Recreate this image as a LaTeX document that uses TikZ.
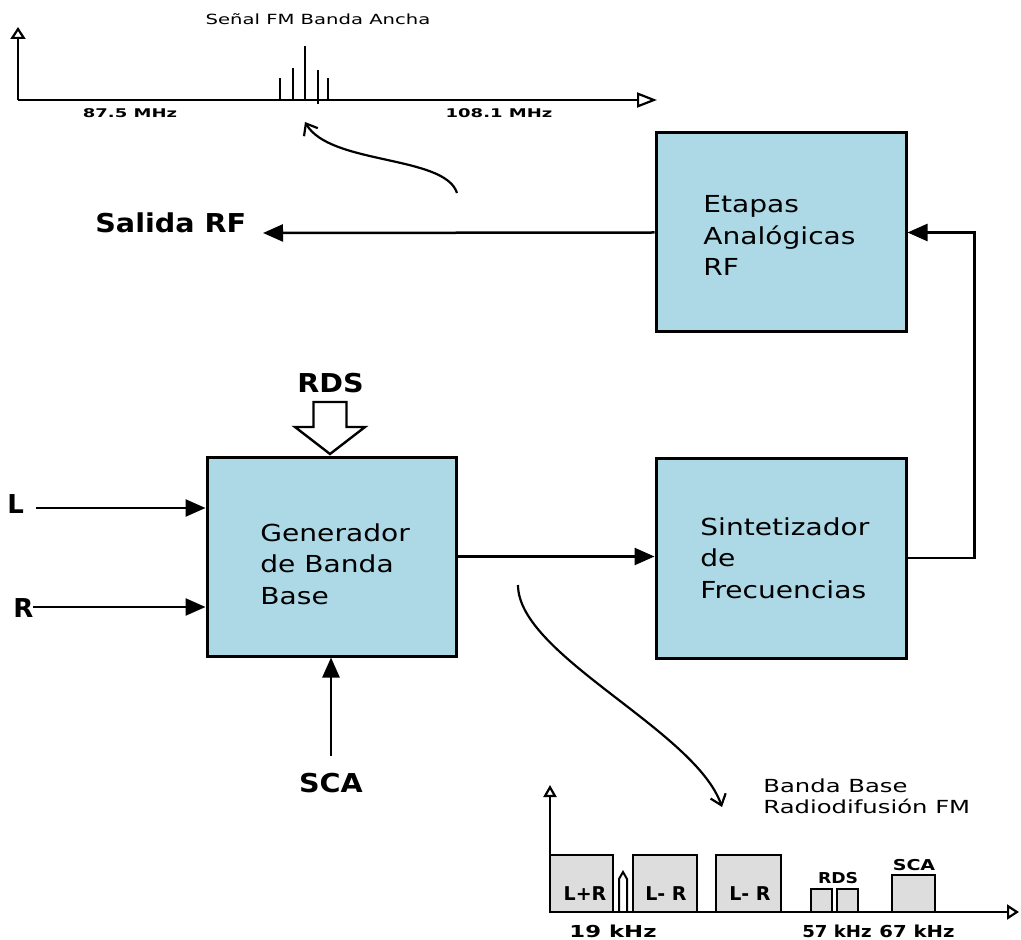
\documentclass[tikz,border=0pt]{standalone}
\usepackage{fontspec}
\setmainfont{DejaVu Sans}
\usepackage{graphicx}
\usetikzlibrary{arrows.meta}

\definecolor{boxblue}{RGB}{173,216,230}
\definecolor{specgray}{RGB}{221,221,221}

% horizontally widened text and left-aligned stacked lines
\newcommand{\hs}[2]{\scalebox{#1}[1]{#2}}
\newcommand{\stack}[2]{\scalebox{#1}[1]{\begin{tabular}[t]{@{}l@{}}#2\end{tabular}}}

\tikzset{
  blk/.style={draw=black, line width=1.5pt, fill=boxblue, inner sep=0pt},
  band/.style={draw=black, line width=1.25pt, fill=specgray},
  wire/.style={line width=1.25pt, -{Triangle[length=10pt,width=8.5pt]}},
  axis/.style={line width=1.25pt},
  curvy/.style={line width=1.1pt, -{Straight Barb[length=5pt,width=8pt,line width=1.1pt]}},
  boxtxt/.style={font=\fontsize{11.7}{15.75}\selectfont, anchor=base west, inner sep=0pt},
  lbl/.style={font=\fontsize{13}{15}\selectfont\bfseries, anchor=base west, inner sep=0pt},
  tiny/.style={font=\fontsize{6}{7}\selectfont\bfseries, anchor=base, inner sep=0pt},
}

\begin{document}
\begin{tikzpicture}[x=0.5pt,y=-0.5pt]
\useasboundingbox (0,0) rectangle (1021,940);

% ---- processing blocks
\node[blk, minimum width=125pt, minimum height=99.5pt] (eta) at (781,232.5) {};
\node[blk, minimum width=124.5pt, minimum height=99.5pt] (gen) at (331.5,556.5) {};
\node[blk, minimum width=125pt, minimum height=100pt] (syn) at (781,558) {};

\node[boxtxt] (etatxt) at (703,213) {\stack{1.2}{Etapas\\Analógicas\\RF}};
\node[boxtxt] (gentxt) at (260,541) {\stack{1.2}{Generador\\de Banda\\Base}};
\node[boxtxt] (syntxt) at (700,535) {\stack{1.2}{Sintetizador\\de\\Frecuencias}};

% ---- signal flow
\draw[wire] (gen.east) -- (gen.east -| syn.west);
\draw[wire] (syn.east) -- ++(67,0) |- (eta.east);

\coordinate (rfout) at (263,233);
\draw[wire] (eta.west) -- (rfout);
\node[lbl] (salida) at (95,233) {\hs{1.1}{Salida RF}};

\coordinate (lin) at (36,508);
\coordinate (rin) at (33,607);
\draw[wire] (lin) -- (lin -| gen.west);
\draw[wire] (rin) -- (rin -| gen.west);
\node[lbl] (ltxt) at (7,513) {L};
\node[lbl] (rtxt) at (13,617) {R};

\coordinate (scain) at (331,756);
\draw[wire] (scain) -- (scain |- gen.south);
\node[lbl, anchor=base] (scatxt) at (331,792) {\hs{1.1}{SCA}};

% hollow RDS input arrow
\draw[line width=1.2pt, fill=white, line join=miter]
  (313.5,402) -- (346.5,402) -- (346.5,427) -- (365,427) -- (330,454)
  -- (295,427) -- (313.5,427) -- cycle;
\node[lbl] (rdstxt) at (297,393) {\hs{1.1}{RDS}};

% ---- wideband FM spectrum
\coordinate (o1) at (18,100);
\draw[axis, -{Triangle[open,length=6pt,width=7.5pt,line width=1.1pt]}] (o1) -- (18,27);
\draw[axis, -{Triangle[open,length=10pt,width=7.5pt,line width=1.1pt]}] (o1) -- (657,100);
\foreach \x/\t/\b in {280/78/100, 293/68/100, 305/46/100, 318/70/104, 328/78/100}
  \draw[axis] (\x,\b) -- (\x,\t);
\node[font=\fontsize{7}{8}\selectfont, anchor=base, inner sep=0pt] (wfm) at (318,25)
  {\hs{1.4}{Señal FM Banda Ancha}};
\node[tiny] (f1) at (130,118) {\hs{1.5}{87.5 MHz}};
\node[tiny] (f2) at (499,118) {\hs{1.5}{108.1 MHz}};

\coordinate (c1s) at (457,193);
\coordinate (c1e) at (305,122);
\draw[curvy] (c1s) .. controls (445,155) and (330,165) .. (c1e);

% ---- baseband spectrum
\coordinate (c2s) at (518,585);
\coordinate (c2e) at (722,807);
\draw[curvy] (c2s) .. controls (518,655) and (695,730) .. (c2e);

\node[font=\fontsize{9}{10}\selectfont, anchor=base west, inner sep=0pt] (bb1) at (763,792)
  {\hs{1.35}{Banda Base}};
\node[font=\fontsize{9}{10}\selectfont, anchor=base west, inner sep=0pt] (bb2) at (763,813)
  {\hs{1.35}{Radiodifusión FM}};

\draw[band] (550,912) rectangle (613,855);
\draw[band] (633,912) rectangle (697,855);
\draw[band] (716,912) rectangle (781,855);
\draw[band] (811,912) rectangle (832,889);
\draw[band] (837,912) rectangle (858,889);
\draw[band] (892,912) rectangle (935,875);
\draw[line width=1pt, line join=miter] (619,912) -- (619,879) -- (623,872) -- (627,879) -- (627,912);

\coordinate (o2) at (550,912);
\draw[axis, -{Triangle[open,length=6pt,width=6.5pt,line width=1.1pt]}] (o2) -- (550,785);
\draw[axis, -{Triangle[open,length=6pt,width=7.5pt,line width=1.1pt]}] (o2) -- (1019,912);

\node[font=\fontsize{9.5}{10}\selectfont\bfseries, anchor=base, inner sep=0pt] (b1) at (585,900) {L+R};
\node[font=\fontsize{9.5}{10}\selectfont\bfseries, anchor=base, inner sep=0pt] (b2) at (666,900) {L- R};
\node[font=\fontsize{9.5}{10}\selectfont\bfseries, anchor=base, inner sep=0pt] (b3) at (750,900) {L- R};
\node[font=\fontsize{7.5}{8}\selectfont\bfseries, anchor=base, inner sep=0pt] (b4) at (838,883) {\hs{1.15}{RDS}};
\node[font=\fontsize{7.5}{8}\selectfont\bfseries, anchor=base, inner sep=0pt] (b5) at (914,870) {\hs{1.27}{SCA}};

\node[font=\fontsize{8.25}{9}\selectfont\bfseries, anchor=base, inner sep=0pt] (k1) at (613,937) {\hs{1.38}{19 kHz}};
\node[font=\fontsize{8.25}{9}\selectfont\bfseries, anchor=base, inner sep=0pt] (k2) at (837,937) {\hs{1.1}{57 kHz}};
\node[font=\fontsize{8.25}{9}\selectfont\bfseries, anchor=base, inner sep=0pt] (k3) at (917,937) {\hs{1.19}{67 kHz}};
\end{tikzpicture}
\end{document}
